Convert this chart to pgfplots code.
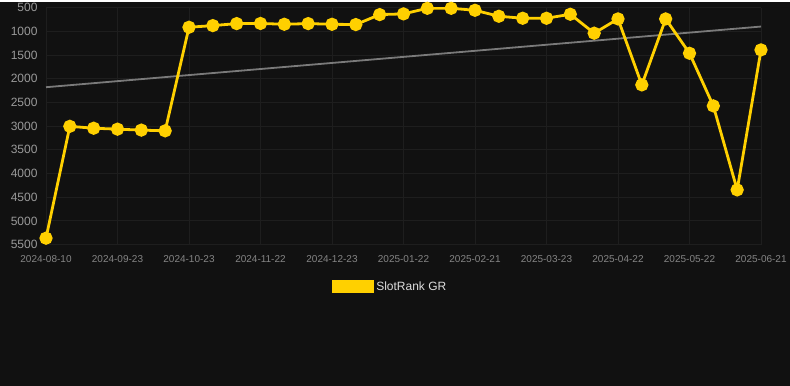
\documentclass[border=0pt]{standalone}
\usepackage{pgfplots}
\pgfplotsset{compat=1.18}
\usepackage{fontspec}
\setmainfont{Liberation Sans}
\definecolor{bg}{HTML}{111111}
\definecolor{gridc}{HTML}{1E1E1E}
\definecolor{ylw}{HTML}{FFD000}
\definecolor{trend}{HTML}{7A7A7A}
\definecolor{ytxt}{HTML}{9A9A9A}
\definecolor{xtxt}{HTML}{858585}
\definecolor{ltxt}{HTML}{DDDDDD}
\begin{document}
\begin{tikzpicture}[x=1pt,y=1pt]
\fill[bg] (0,0) rectangle (790,384);
\begin{axis}[
  at={(46pt,141pt)}, anchor=south west,
  scale only axis, width=715pt, height=237pt,
  xmin=0, xmax=30, ymin=500, ymax=5500, y dir=reverse,
  axis line style={draw=none},
  major tick length=0pt,
  xtick={0,3,...,30},
  xticklabels={2024-08-10,2024-09-23,2024-10-23,2024-11-22,2024-12-23,2025-01-22,2025-02-21,2025-03-23,2025-04-22,2025-05-22,2025-06-21},
  ytick={500,1000,...,5500},
  grid=major, major grid style={gridc, line width=0.8pt},
  /pgf/number format/assume math mode=true,
  /pgf/number format/1000 sep={},
  yticklabel style={font=\fontsize{12}{14}\selectfont, text=ytxt, xshift=-5pt},
  xticklabel style={font=\fontsize{10}{12}\selectfont, text=xtxt, yshift=-7pt},
  legend style={at={(0.481,-0.177)}, anchor=center, draw=none, fill=none,
    text=ltxt, font=\fontsize{12}{14}\selectfont},
  legend image code/.code={\fill[ylw] (0pt,-5.5pt) rectangle (40pt,5.5pt);},
]
\addplot[trend, line width=1.8pt, forget plot] coordinates {(0,2180) (30,900)};
\addplot[ylw, line width=2.8pt, mark=*, mark size=5.2pt, mark options={solid, fill=ylw, draw=none}] coordinates {
(0,5365) (1,3005) (2,3045) (3,3065) (4,3085) (5,3100)
(6,915) (7,880) (8,838) (9,835) (10,852) (11,838) (12,852) (13,858)
(14,648) (15,633) (16,515) (17,515) (18,557) (19,683) (20,725) (21,725)
(22,641) (23,1040) (24,739) (25,2131) (26,739) (27,1464) (28,2574) (29,4346) (30,1393)};
\addlegendentry{SlotRank GR}
\end{axis}
\end{tikzpicture}
\end{document}
